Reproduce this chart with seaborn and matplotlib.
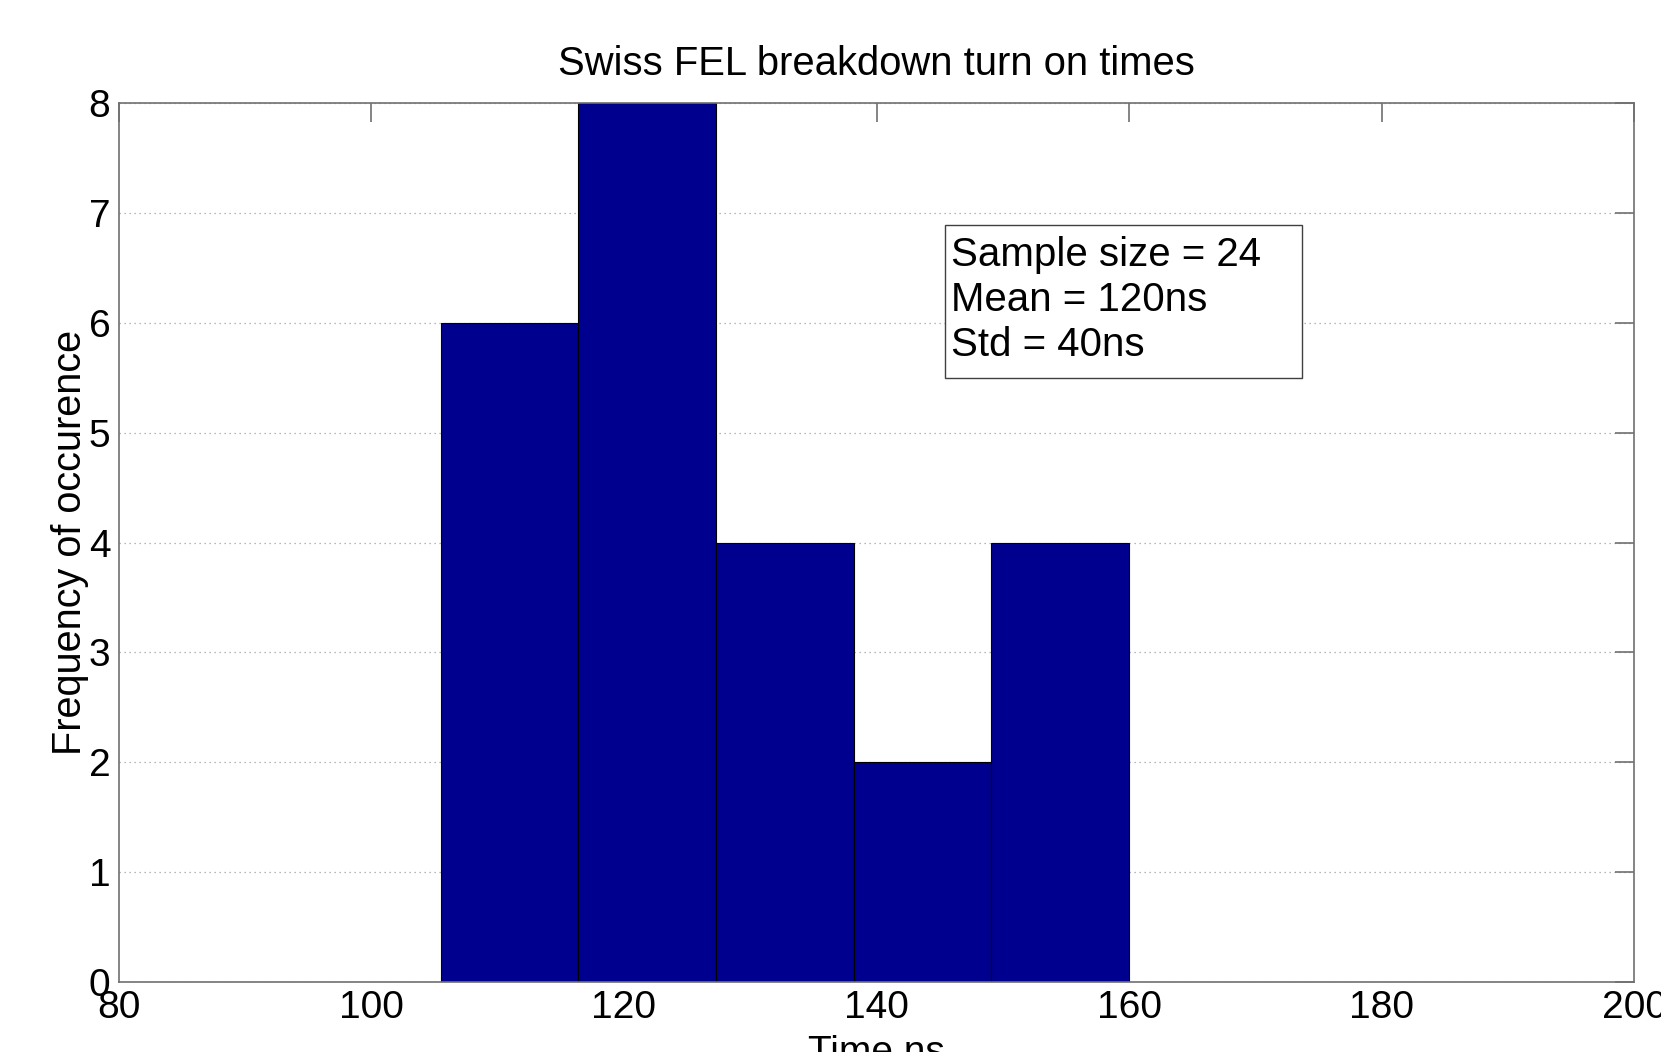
import numpy as np
import pandas as pd
import matplotlib
matplotlib.use('Agg')
import matplotlib.pyplot as plt
import matplotlib.patches as mpatches
import seaborn as sns

# histogram (5 bins between ~105.5 and 160 ns)
bin_edges = [105.5, 116.4, 127.3, 138.2, 149.1, 160.0]
counts = [6, 8, 4, 2, 4]
x_ticks = [80, 100, 120, 140, 160, 180, 200]
y_ticks = [0, 1, 2, 3, 4, 5, 6, 7, 8]
stats_lines = ["Sample size = 24", "Mean = 120ns", "Std = 40ns"]

centers = [(a + b) / 2 for a, b in zip(bin_edges[:-1], bin_edges[1:])]
df = pd.DataFrame({'time': centers, 'count': counts})

sns.set_style('white')
plt.rcParams['font.family'] = ['Liberation Sans', 'DejaVu Sans']
plt.rcParams['text.color'] = 'black'
plt.rcParams['axes.labelcolor'] = 'black'

fig = plt.figure(figsize=(16.61, 10.52), dpi=100)
ax = fig.add_axes([0.0714, 0.0665, 0.9126, 0.8355])

sns.histplot(data=df, x='time', weights='count', bins=bin_edges, ax=ax,
             color='#00008F', edgecolor='black', linewidth=0.8, alpha=1.0,
             zorder=2)

ax.set_xlim(80, 200)
ax.set_ylim(0, 8)
ax.set_xticks(x_ticks)
ax.set_yticks(y_ticks)
ax.yaxis.grid(True, linestyle=(0, (1, 3)), color='#a0a0a0', linewidth=0.9, zorder=0)
ax.xaxis.grid(False)
ax.set_axisbelow(True)

for s in ax.spines.values():
    s.set_visible(True)
    s.set_color('#707070')
    s.set_linewidth(1.2)

ax.tick_params(axis='both', direction='in', length=14, width=1.2, color='#707070',
               labelcolor='black', top=True, right=True, labelsize=28, pad=6)

ax.set_title('Swiss FEL breakdown turn on times', fontsize=28.8, pad=20)
ax.set_xlabel('Time ns', fontsize=28, labelpad=6)
ax.set_ylabel('Frequency of occurence', fontsize=28.5, labelpad=0)

# stats box (MATLAB-style annotation with extra room on right/bottom)
box = mpatches.Rectangle((0.545, 0.6867), 0.236, 0.1747, transform=ax.transAxes,
                         facecolor='white', edgecolor='#404040', linewidth=1.0,
                         zorder=5)
ax.add_patch(box)
ax.text(0.549, 0.849, "\n".join(stats_lines), transform=ax.transAxes,
        fontsize=29, va='top', ha='left', linespacing=1.24, zorder=6)

plt.savefig('out.png', dpi=100)
